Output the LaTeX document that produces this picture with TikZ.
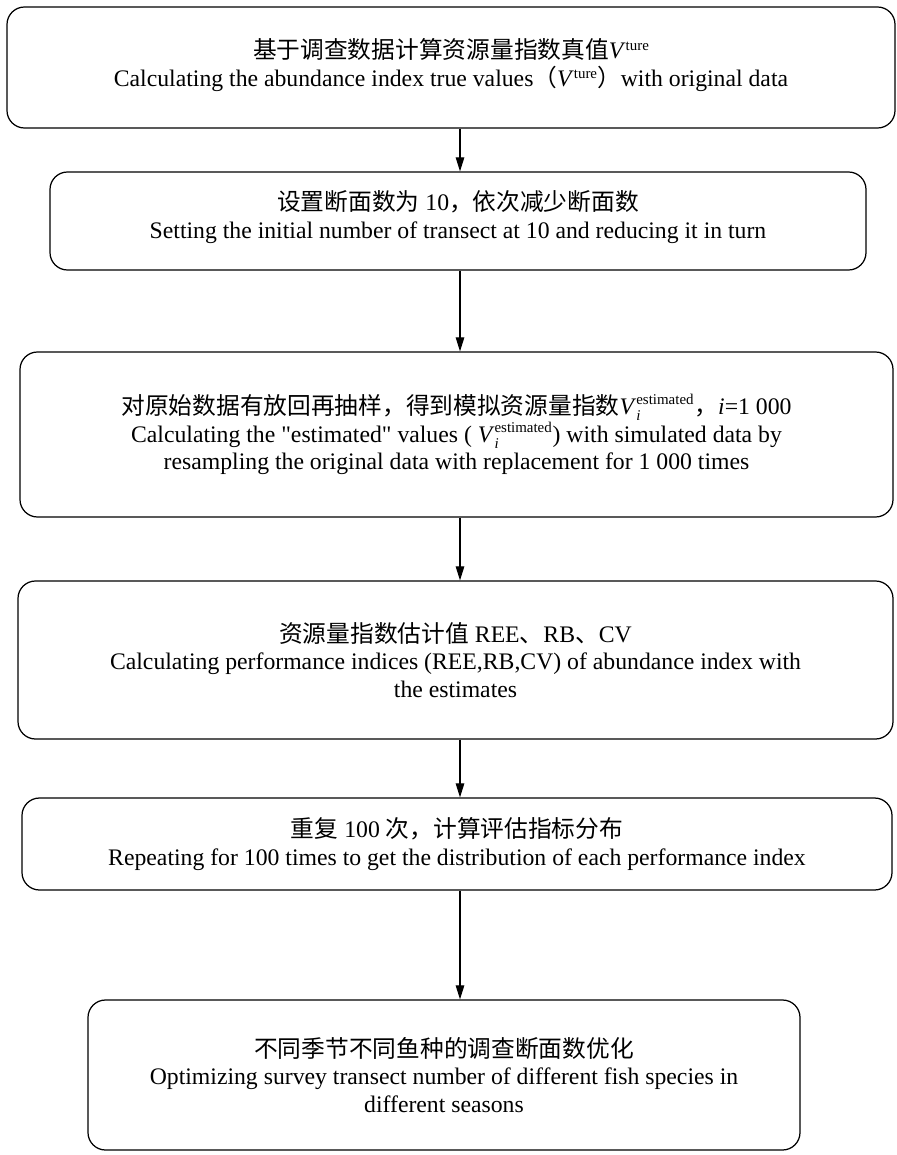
\documentclass[tikz,border=0pt]{standalone}
\usepackage{fontspec}
\setmainfont{Liberation Serif}[Ligatures=TeXOff]
\newfontfamily\cjk{Noto Sans CJK SC}
\usetikzlibrary{arrows.meta,calc}
\tikzstyle{stepnode}=[draw, line width=0.7pt, rounded corners=0.35cm, align=center, inner sep=0pt, font=\fontsize{13.5}{15.8}\selectfont]
\tikzstyle{flowarrow}=[-{Triangle[length=0.28cm,width=0.17cm]}, line width=0.6pt]
\newcommand{\flowstep}[6]{
	\node[stepnode, minimum width={(#4-#2)*0.02cm}, minimum height={(#5-#3)*0.02cm}] (#1) at ({(#2+#4)/2},{(#3+#5)/2}) {#6};
}
\newcommand{\smalltxt}[1]{\hbox{\fontsize{8.5}{8.5}\selectfont #1}}
\newcommand{\sups}[1]{\raisebox{0.7ex}{\fontsize{8.5}{8.5}\selectfont #1}}
\newcommand{\Vest}{$\hbox{\textit{V}}_{\smalltxt{\textit{i}}}^{\smalltxt{estimated}}$}
\begin{document}
\begin{tikzpicture}[x=0.02cm, y=-0.02cm]
	\useasboundingbox (0,0) rectangle (896,1155);
	\flowstep{truev}{7}{7}{895}{128}{{\cjk 基于调查数据计算资源量指数真值}\textit{V}\sups{ture}\\
		Calculating the abundance index true values{\cjk （}\textit{V}\sups{ture}{\cjk ）}with original data\\[-0.35cm]\mbox{}}
	\flowstep{setn}{50}{172}{866}{270}{{\cjk 设置断面数为} 10{\cjk ，依次减少断面数}\\
		Setting the initial number of transect at 10 and reducing it in turn\\[-0.3cm]\mbox{}}
	\flowstep{resample}{20}{352}{893}{517}{{\cjk 对原始数据有放回再抽样，得到模拟资源量指数}\Vest{\cjk ，}\textit{i}=1~000\\
		Calculating the "estimated" values ( \Vest) with simulated data by\\
		resampling the original data with replacement for 1~000 times}
	\flowstep{indices}{18}{581}{893}{739}{{\cjk 资源量指数估计值} REE{\cjk 、}RB{\cjk 、}CV\\
		Calculating performance indices (REE,RB,CV) of abundance index with\\
		the estimates}
	\flowstep{repeat}{22}{798}{892}{890}{{\cjk 重复} 100 {\cjk 次，计算评估指标分布}\\
		Repeating for 100 times to get the distribution of each performance index}
	\flowstep{optim}{88}{1000}{800}{1150}{{\cjk 不同季节不同鱼种的调查断面数优化}\\
		Optimizing survey transect number of different fish species in\\
		different seasons}
	% arrows all on one vertical line
	\coordinate (ax) at (460,0);
	\draw[flowarrow] (truev.south -| ax) -- (setn.north -| ax);
	\draw[flowarrow] (setn.south -| ax) -- (resample.north -| ax);
	\draw[flowarrow] (resample.south -| ax) -- (indices.north -| ax);
	\draw[flowarrow] (indices.south -| ax) -- (repeat.north -| ax);
	\draw[flowarrow] (repeat.south -| ax) -- (optim.north -| ax);
\end{tikzpicture}
\end{document}
